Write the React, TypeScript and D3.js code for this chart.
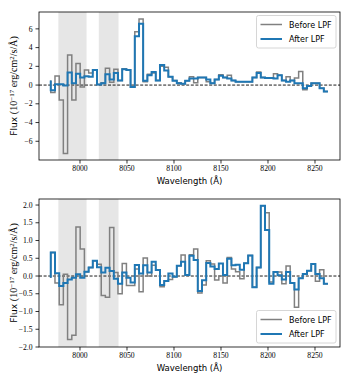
import React from "react";
import * as d3 from "d3";

// wavelength grid (Å), step positions (pre-step)
const WAVE = [
  7968.9, 7973.4, 7977.9, 7982.3, 7986.8, 7991.3, 7995.7, 8000.2, 8004.7, 8009.2,
  8013.6, 8018.1, 8022.6, 8027.0, 8031.5, 8036.0, 8040.4, 8044.9, 8049.4, 8053.8,
  8058.3, 8062.8, 8067.2, 8071.7, 8076.2, 8080.6, 8085.1, 8089.6, 8094.0, 8098.5,
  8103.0, 8107.5, 8111.9, 8116.4, 8120.9, 8125.3, 8129.8, 8134.3, 8138.7, 8143.2,
  8147.7, 8152.1, 8156.6, 8161.1, 8165.5, 8170.0, 8174.5, 8178.9, 8183.4, 8187.9,
  8192.3, 8196.8, 8201.3, 8205.8, 8210.2, 8214.7, 8219.2, 8223.6, 8228.1, 8232.6,
  8237.0, 8241.5, 8246.0, 8250.4, 8254.9, 8259.4, 8263.8,
];

const TOP_BEFORE = [
  0.5, -0.8, 0.96, -1.6, -7.3, 3.2, -1.6, 2.3, -0.2, 1.6,
  1.3, 1.6, 0.05, 0.25, 1.8, 0.3, 1.7, 0.5, 1.75, 1.6,
  -0.2, 5.7, 7.05, 0.35, 1.15, 1.3, 0.5, 2.0, 1.9, 0.9,
  0.5, 0.25, 0.15, 0.45, 0.9, 0.25, 0.8, 0.8, 0.35, 0.2,
  0.6, 1.1, 0.8, 1.05, 0.5, 0.35, 0.35, 0.35, 0.35, 0.8,
  1.4, 0.8, 0.75, 0.75, 1.2, 1.05, 0.5, 0.9, 0.5, 0.75,
  1.45, -0.5, -0.1, 0.2, 0.2, -0.35, -0.7,
];
const TOP_AFTER = [
  0.5, -0.55, 0.1, 0.1, -0.05, 1.35, 0.2, 1.2, 0.8, 0.95,
  0.9, 1.6, 0.05, 0.2, 1.15, 0.6, 1.3, 0.5, 1.7, 1.6,
  -0.2, 5.2, 6.55, 0.45, 1.05, 1.4, 0.5, 2.15, 1.55, 0.9,
  0.45, 0.2, 0.15, 0.45, 0.7, 0.7, 0.8, 0.8, 0.6, 0.2,
  0.6, 1.0, 0.8, 0.7, 0.5, 0.35, 0.35, 0.35, 0.35, 0.8,
  1.3, 0.8, 0.75, 0.75, 0.7, 1.05, 0.5, 0.35, 0.5, 0.2,
  0.2, -0.35, -0.1, 0.2, 0.2, -0.35, -0.7,
];
const BOT_BEFORE = [
  -0.05, 0.66, -0.2, -0.81, 0.05, -1.79, -1.67, 1.38, 0.76, 0.12,
  0.24, 0.43, 0.33, -0.55, -0.6, 1.37, 0.1, -0.5, 0.35, -0.27,
  -0.27, 0.2, -0.44, 0.51, 0.0, 0.3, 0.17, -0.3, -0.14, -0.1,
  -0.02, 0.29, 0.59, 0.03, 0.6, 0.76, -0.48, -0.25, 0.43, 0.34,
  -0.11, 0.0, -0.2, 0.52, 0.2, 0.12, -0.08, 0.36, 0.58, -0.32,
  0.24, 1.98, 1.78, -0.17, 0.11, 0.11, -0.22, 0.28, -0.2, -0.88,
  -0.06, 0.06, 0.15, 0.34, -0.15, 0.18, -0.22,
];
const BOT_AFTER = [
  -0.05, 0.66, 0.08, -0.28, -0.2, -0.1, -0.05, 0.05, -0.05, 0.12,
  0.24, 0.43, 0.25, 0.1, 0.23, 0.14, -0.08, -0.22, 0.1, -0.05,
  -0.18, 0.31, 0.07, 0.3, 0.1, 0.4, 0.17, -0.25, -0.14, 0.07,
  -0.02, 0.29, 0.4, 0.03, 0.57, 0.45, -0.42, -0.12, 0.37, 0.27,
  0.2, 0.35, 0.03, 0.49, 0.3, 0.32, 0.18, 0.36, 0.58, -0.32,
  0.24, 1.98, 1.3, -0.22, 0.11, 0.02, -0.1, 0.11, -0.2, -0.38,
  -0.06, 0.06, 0.15, 0.34, 0.06, -0.06, -0.22,
];

const SHADED = [
  [7977, 8007],
  [8020, 8041],
];
const X_TICKS = [8000, 8050, 8100, 8150, 8200, 8250];
const TOP_Y_TICKS = [-6, -4, -2, 0, 2, 4, 6];
const BOT_Y_TICKS = [-2, -1.5, -1, -0.5, 0, 0.5, 1, 1.5, 2];
const LEGEND_LABELS = ["Before LPF", "After LPF"];

const W = 353;
const H = 383;
const L = 39;
const R = 340;
const GRAY = "#808080";
const BLUE = "#1f77b4";
const SERIF = "'Liberation Serif', 'DejaVu Serif', serif";
const SANS = "'DejaVu Sans', sans-serif";

const x = d3.scaleLinear().domain([7956.4, 8276.6]).range([L, R]);

const minus = (s: string) => s.replace("-", "\u2212");

function Panel(props: {
  top: number;
  bottom: number;
  yDomain: [number, number];
  yTicks: number[];
  fmt: (v: number) => string;
  before: number[];
  after: number[];
}) {
  const { top, bottom, yDomain, yTicks, fmt, before, after } = props;
  const y = d3.scaleLinear().domain(yDomain).range([bottom, top]);
  const line = d3
    .line<number>()
    .x((_, i) => x(WAVE[i]))
    .y((d) => y(d))
    .curve(d3.curveStepBefore);
  const cy = (top + bottom) / 2;
  const legTop = top === 12 ? top + 3.5 : bottom - 36.5;
  return (
    <g>
      {SHADED.map(([a, b], i) => (
        <rect key={i} x={x(a)} y={top} width={x(b) - x(a)} height={bottom - top} fill="#e6e6e6" />
      ))}
      <line x1={L} x2={R} y1={y(0)} y2={y(0)} stroke="#000" strokeWidth={0.9} strokeDasharray="3,1.6" />
      <path d={line(before) || ""} fill="none" stroke={GRAY} strokeWidth={1.5} />
      <path d={line(after) || ""} fill="none" stroke={BLUE} strokeWidth={2} />
      <rect x={L} y={top} width={R - L} height={bottom - top} fill="none" stroke="#000" strokeWidth={0.8} />
      {X_TICKS.map((t) => (
        <g key={t}>
          <line x1={x(t)} x2={x(t)} y1={bottom} y2={bottom + 3.5} stroke="#000" strokeWidth={0.8} />
          <text x={x(t)} y={bottom + 11} textAnchor="middle" fontFamily={SERIF} fontSize={7.7} fill="#000">
            {t}
          </text>
        </g>
      ))}
      {yTicks.map((t) => (
        <g key={t}>
          <line x1={L - 3.5} x2={L} y1={y(t)} y2={y(t)} stroke="#000" strokeWidth={0.8} />
          <text x={L - 6.5} y={y(t) + 2.7} textAnchor="end" fontFamily={SERIF} fontSize={7.7} fill="#000">
            {minus(fmt(t))}
          </text>
        </g>
      ))}
      <text x={(L + R) / 2} y={bottom + 24} textAnchor="middle" fontFamily={SANS} fontSize={8.5} fill="#000">
        Wavelength (Å)
      </text>
      <text transform={`translate(17, ${cy}) rotate(-90)`} textAnchor="middle" fontSize={9.5} fill="#000">
        <tspan fontFamily={SANS} fontSize={9}>Flux </tspan>
        <tspan fontFamily={SERIF} fontSize={10}>(10</tspan>
        <tspan fontFamily={SERIF} fontSize={7} dy={-3.5}>{"\u221217"}</tspan>
        <tspan fontFamily={SERIF} fontSize={10} dy={3.5}> erg/cm</tspan>
        <tspan fontFamily={SERIF} fontSize={7} dy={-3.5}>2</tspan>
        <tspan fontFamily={SERIF} fontSize={10} dy={3.5}>/s/Å)</tspan>
      </text>
      <g>
        <rect x={256.5} y={legTop} width={79.5} height={32.5} rx={2} fill="#fff" fillOpacity={0.8} stroke="#cccccc" strokeWidth={0.8} />
        {LEGEND_LABELS.map((lab, i) => {
          const ly = legTop + 9 + i * 14.5;
          return (
            <g key={lab}>
              <line x1={260.5} x2={282} y1={ly} y2={ly} stroke={i === 0 ? GRAY : BLUE} strokeWidth={i === 0 ? 1.5 : 2} />
              <text x={289} y={ly + 3} fontFamily={SANS} fontSize={8} fill="#000">
                {lab}
              </text>
            </g>
          );
        })}
      </g>
    </g>
  );
}

export default function App() {
  return (
    <svg width={W} height={H} style={{ position: "absolute", left: 0, top: 0, background: "#fff" }}>
      <rect width={W} height={H} fill="#fff" />
      <Panel
        top={12}
        bottom={160}
        yDomain={[-8.0, 7.8]}
        yTicks={TOP_Y_TICKS}
        fmt={(v) => d3.format("d")(v)}
        before={TOP_BEFORE}
        after={TOP_AFTER}
      />
      <Panel
        top={199}
        bottom={347}
        yDomain={[-2.0, 2.17]}
        yTicks={BOT_Y_TICKS}
        fmt={(v) => d3.format(".1f")(v)}
        before={BOT_BEFORE}
        after={BOT_AFTER}
      />
    </svg>
  );
}
